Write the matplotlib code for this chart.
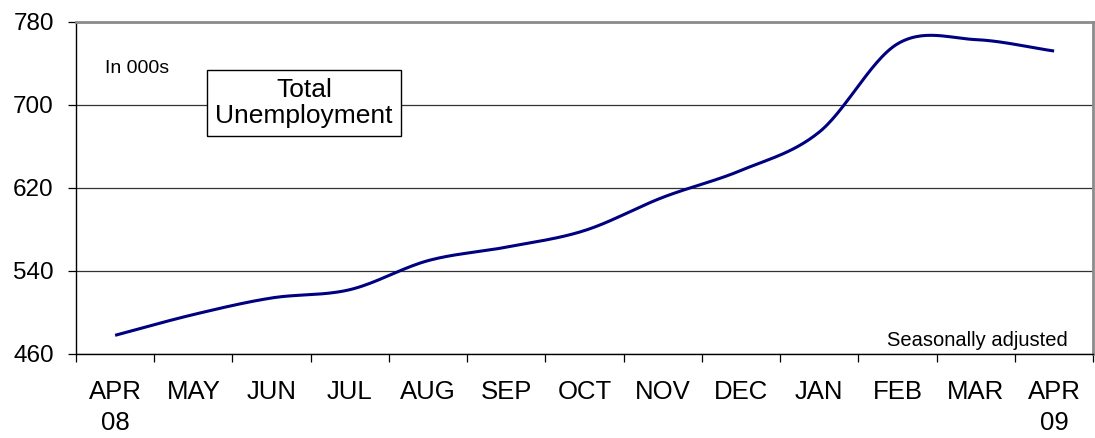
import numpy as np
import matplotlib
matplotlib.use("Agg")
import matplotlib.pyplot as plt
from matplotlib.ticker import FixedLocator

# monthly total unemployment, thousands (seasonally adjusted)
months = ["APR\n08", "MAY", "JUN", "JUL", "AUG", "SEP", "OCT",
          "NOV", "DEC", "JAN", "FEB", "MAR", "APR\n09"]
values = [478, 498, 514, 522, 550, 563, 579, 611, 637, 674, 759, 763, 752]
yticks = [460, 540, 620, 700, 780]


# smoothed line like the spreadsheet's "smoothed line" option (Catmull-Rom)
def smooth(xs, ys, n=30):
	xs = np.asarray(xs, float)
	ys = np.asarray(ys, float)
	px = np.concatenate([[2 * xs[0] - xs[1]], xs, [2 * xs[-1] - xs[-2]]])
	py = np.concatenate([[2 * ys[0] - ys[1]], ys, [2 * ys[-1] - ys[-2]]])
	ox, oy = [], []
	t = np.linspace(0, 1, n, endpoint=False)
	for i in range(1, len(px) - 2):
		for p, out in ((px, ox), (py, oy)):
			p0, p1, p2, p3 = p[i - 1], p[i], p[i + 1], p[i + 2]
			out.extend(0.5 * ((2 * p1) + (-p0 + p2) * t
				+ (2 * p0 - 5 * p1 + 4 * p2 - p3) * t ** 2
				+ (-p0 + 3 * p1 - 3 * p2 + p3) * t ** 3))
	ox.append(xs[-1])
	oy.append(ys[-1])
	return ox, oy


plt.rcParams['font.family'] = ['Liberation Sans', 'DejaVu Sans']

fig = plt.figure(figsize=(10.95, 4.38), dpi=100)
ax = fig.add_axes([0.0694, 0.1918, 0.929, 0.758])

x = np.arange(len(months))
sx, sy = smooth(x, values)
ax.plot(sx, sy, color='#000080', linewidth=2.2, solid_capstyle='butt', zorder=3)

ax.set_xlim(-0.5, len(months) - 0.5)
ax.set_ylim(yticks[0], yticks[-1])
ax.set_yticks(yticks)
ax.yaxis.grid(True, color='#333333', linewidth=0.9)
ax.set_axisbelow(True)

ax.set_xticks(x)
ax.set_xticklabels(months, fontsize=18.5, linespacing=1.35)
ax.xaxis.set_minor_locator(FixedLocator(np.arange(-0.5, len(months), 1.0)))
ax.tick_params(axis='x', which='major', length=0, pad=19)
ax.tick_params(axis='x', which='minor', length=5.5, width=0.9, direction='out')
ax.tick_params(axis='y', labelsize=17.5, length=6, width=0.9, pad=10)

for side in ('left', 'bottom'):
	ax.spines[side].set_color('black')
	ax.spines[side].set_linewidth(1.0)
for side in ('top', 'right'):
	ax.spines[side].set_color('#8c8c8c')
	ax.spines[side].set_linewidth(2.0)

ax.text(0.029, 0.859, "In 000s", transform=ax.transAxes, fontsize=14,
	ha='left', va='center')
ax.text(0.224, 0.755, "Total\nUnemployment", transform=ax.transAxes,
	fontsize=19, ha='center', va='center', linespacing=1.1,
	bbox=dict(boxstyle='square,pad=0.3', facecolor='white',
		edgecolor='black', linewidth=1.0), zorder=4)
ax.text(0.975, 0.04, "Seasonally adjusted", transform=ax.transAxes,
	fontsize=14.5, ha='right', va='center')

plt.savefig("out.png", dpi=100)
